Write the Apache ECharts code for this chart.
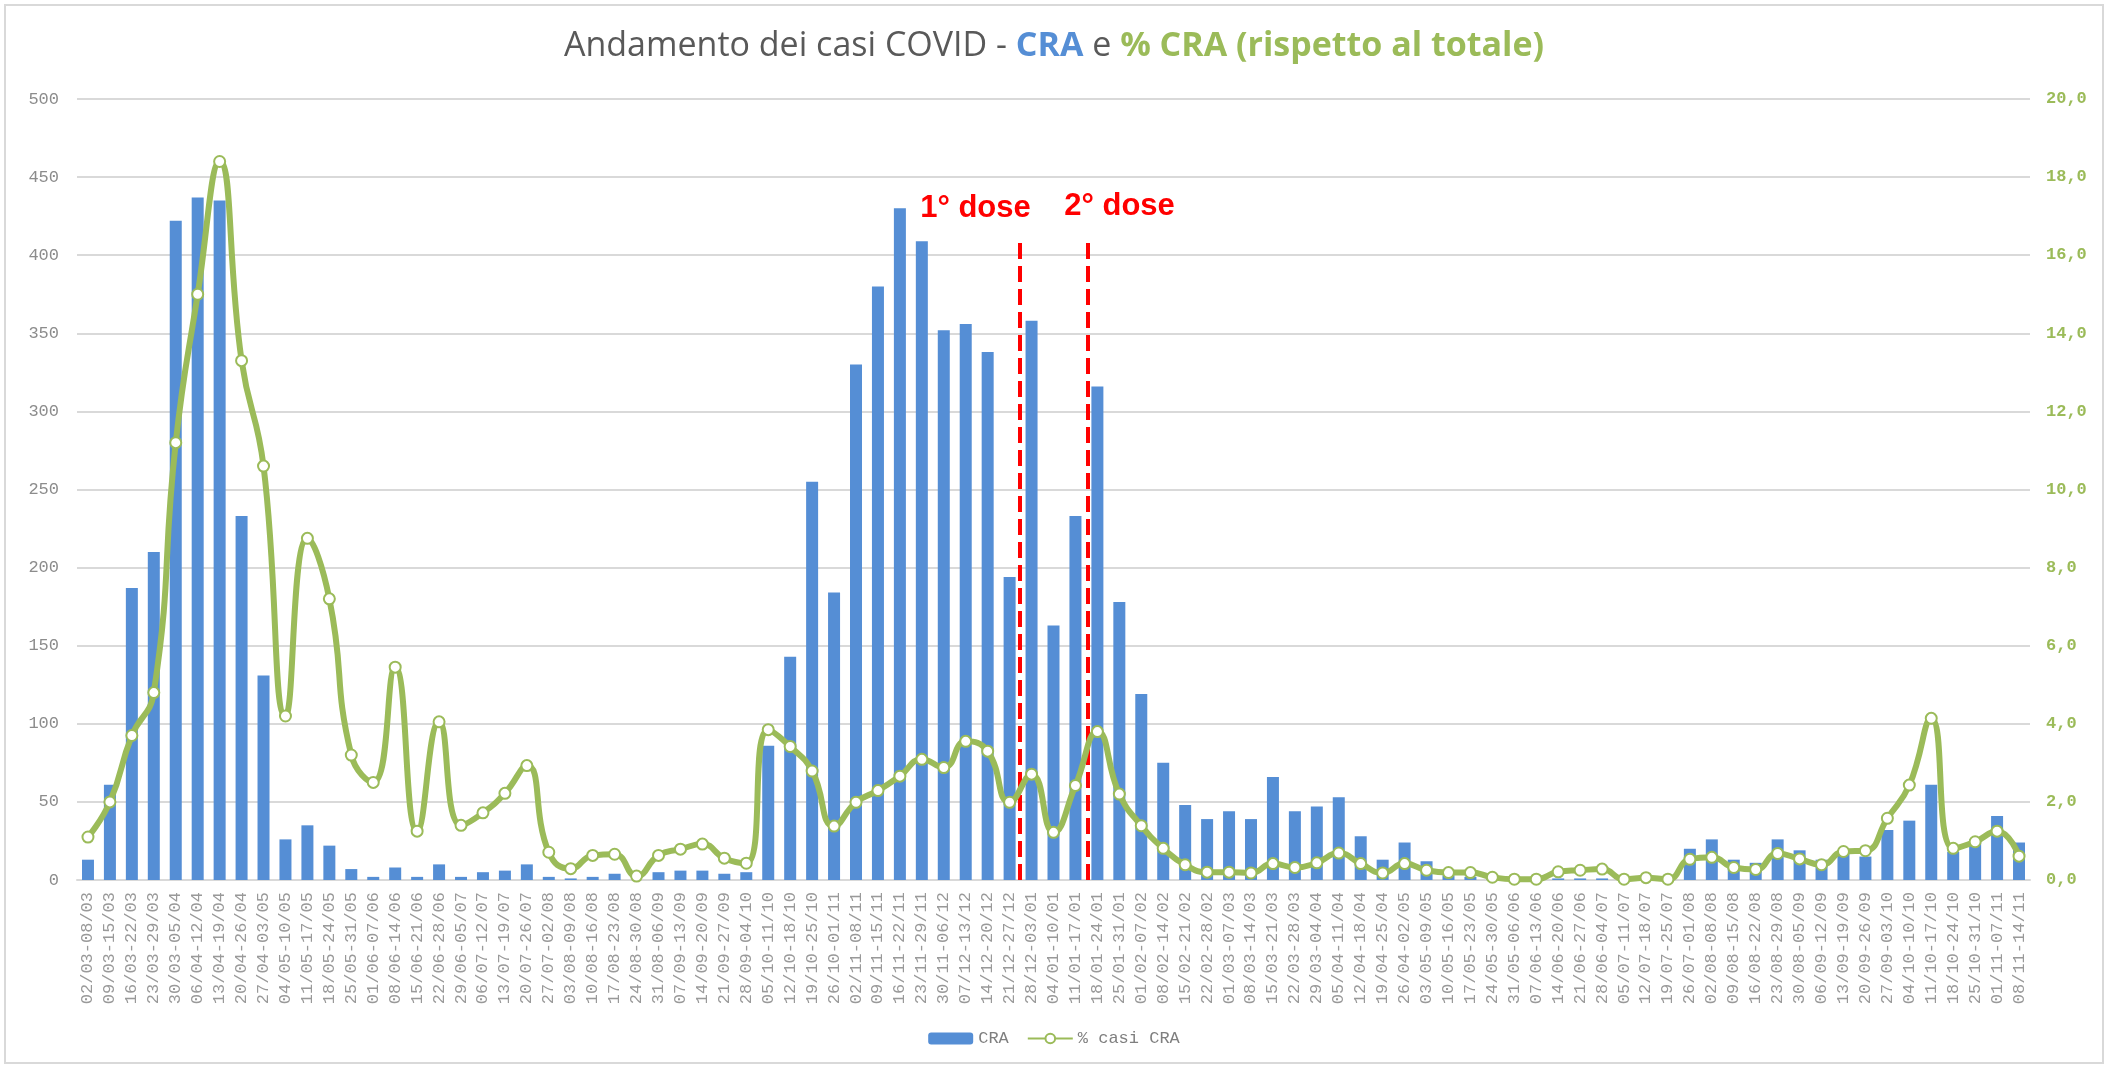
<!DOCTYPE html>
<html>
<head>
<meta charset="utf-8">
<script src="https://cdn.jsdelivr.net/npm/echarts@6/dist/echarts.min.js"></script>
<style>
  html, body { margin: 0; padding: 0; background: #fff; }
  #chart { width: 2108px; height: 1068px; }
  #frame { position: absolute; left: 4px; top: 4px; width: 2096px; height: 1056px;
           border: 2px solid #d9d9d9; pointer-events: none; }
</style>
</head>
<body>
<div id="chart"></div>
<div id="frame"></div>
<script>
// settimane (2020 -> 2021)
const weeks = [
  "02/03-08/03","09/03-15/03","16/03-22/03","23/03-29/03","30/03-05/04","06/04-12/04","13/04-19/04",
  "20/04-26/04","27/04-03/05","04/05-10/05","11/05-17/05","18/05-24/05","25/05-31/05","01/06-07/06",
  "08/06-14/06","15/06-21/06","22/06-28/06","29/06-05/07","06/07-12/07","13/07-19/07","20/07-26/07",
  "27/07-02/08","03/08-09/08","10/08-16/08","17/08-23/08","24/08-30/08","31/08-06/09","07/09-13/09",
  "14/09-20/09","21/09-27/09","28/09-04/10","05/10-11/10","12/10-18/10","19/10-25/10","26/10-01/11",
  "02/11-08/11","09/11-15/11","16/11-22/11","23/11-29/11","30/11-06/12","07/12-13/12","14/12-20/12",
  "21/12-27/12","28/12-03/01","04/01-10/01","11/01-17/01","18/01-24/01","25/01-31/01","01/02-07/02",
  "08/02-14/02","15/02-21/02","22/02-28/02","01/03-07/03","08/03-14/03","15/03-21/03","22/03-28/03",
  "29/03-04/04","05/04-11/04","12/04-18/04","19/04-25/04","26/04-02/05","03/05-09/05","10/05-16/05",
  "17/05-23/05","24/05-30/05","31/05-06/06","07/06-13/06","14/06-20/06","21/06-27/06","28/06-04/07",
  "05/07-11/07","12/07-18/07","19/07-25/07","26/07-01/08","02/08-08/08","09/08-15/08","16/08-22/08",
  "23/08-29/08","30/08-05/09","06/09-12/09","13/09-19/09","20/09-26/09","27/09-03/10","04/10-10/10",
  "11/10-17/10","18/10-24/10","25/10-31/10","01/11-07/11","08/11-14/11"
];

// casi CRA per settimana
const casiCRA = [
  13, 61, 187, 210, 422, 437, 435, 233, 131, 26, 35, 22, 7, 2, 8, 2, 10, 2, 5, 6, 10,
  2, 1, 2, 4, 0, 5, 6, 6, 4, 5, 86, 143, 255, 184, 330, 380, 430, 409, 352, 356, 338,
  194, 358, 163, 233, 316, 178, 119, 75, 48, 39, 44, 39, 66, 44, 47, 53, 28, 13, 24, 12,
  3, 2, 1, 0, 0, 1, 1, 1, 0, 0, 0, 20, 26, 13, 11, 26, 19, 13, 17, 15, 32, 38, 61, 18, 26, 41, 24
];

// % casi CRA rispetto al totale
const percCRA = [
  1.1, 2.0, 3.7, 4.8, 11.2, 15.0, 18.4, 13.3, 10.6, 4.2, 8.75, 7.2, 3.2, 2.5, 5.45, 1.25, 4.05,
  1.4, 1.72, 2.22, 2.93, 0.71, 0.29, 0.63, 0.66, 0.1, 0.63, 0.79, 0.92, 0.56, 0.43, 3.85, 3.42,
  2.79, 1.38, 1.99, 2.29, 2.66, 3.09, 2.88, 3.55, 3.30, 1.99, 2.71, 1.22, 2.42, 3.80, 2.20, 1.39,
  0.81, 0.39, 0.20, 0.20, 0.18, 0.42, 0.32, 0.44, 0.69, 0.42, 0.18, 0.42, 0.25, 0.19, 0.19, 0.07,
  0.02, 0.02, 0.21, 0.25, 0.28, 0.02, 0.06, 0.02, 0.53, 0.58, 0.32, 0.27, 0.68, 0.54, 0.39, 0.73,
  0.75, 1.58, 2.43, 4.14, 0.81, 0.98, 1.25, 0.61
];

// date vaccini: posizione in settimane (confine tra due colonne) e altezza della linea
const doseLabels = ["1° dose", "2° dose"];
const doseAt = [42.95, 46.05];
const doseTop = 408;
const doseLabelOffset = [[-44, -34], [32, -36]];

const GREEN = "#9bbb59", BLUE = "#558ed5", GRID = "#d9d9d9";
const MONO = "Liberation Mono";
const TITLE_FONT = "Open Sans";

const chart = echarts.init(document.getElementById("chart"), null, { renderer: "canvas" });

chart.setOption({
  animation: false,
  backgroundColor: "#fff",
  title: {
    left: "center", top: 24,
    text: "{n|Andamento dei casi COVID - }{b|CRA}{n| e }{g|% CRA (rispetto al totale)}",
    textStyle: {
      rich: {
        n: { fontFamily: TITLE_FONT, fontSize: 34, color: "#595959", fontWeight: "normal" },
        b: { fontFamily: TITLE_FONT, fontSize: 34, color: BLUE, fontWeight: "bold" },
        g: { fontFamily: TITLE_FONT, fontSize: 34, color: GREEN, fontWeight: "bold" }
      }
    }
  },
  legend: {
    bottom: 16, left: "center",
    data: ["CRA", "% casi CRA"],
    itemWidth: 45, itemHeight: 12, itemGap: 18,
    textStyle: { fontFamily: MONO, fontSize: 17, color: "#7f7f7f" }
  },
  grid: { left: 77, right: 78, top: 99, bottom: 188 },
  xAxis: [
    {
      type: "category", data: weeks,
      axisLine: { lineStyle: { color: GRID, width: 2 } },
      axisTick: { show: false },
      axisLabel: { interval: 0, rotate: 90, margin: 12, fontFamily: MONO, fontSize: 17, color: "#999" }
    },
    { type: "value", min: 0, max: weeks.length, show: false }
  ],
  yAxis: [
    {
      type: "value", min: 0, max: 500, interval: 50,
      axisLabel: { margin: 18, fontFamily: MONO, fontSize: 17, color: "#8c8c8c" },
      splitLine: { lineStyle: { color: GRID, width: 2 } },
      axisLine: { show: false }, axisTick: { show: false }
    },
    {
      type: "value", min: 0, max: 20, interval: 2,
      axisLabel: {
        margin: 16, fontFamily: MONO, fontSize: 17, fontWeight: "bold", color: GREEN,
        formatter: v => v.toFixed(1).replace(".", ",")
      },
      splitLine: { show: false }, axisLine: { show: false }, axisTick: { show: false }
    }
  ],
  series: [
    {
      name: "CRA", type: "bar", data: casiCRA, barWidth: 12,
      itemStyle: { color: BLUE }
    },
    {
      name: "% casi CRA", type: "line", yAxisIndex: 1, data: percCRA,
      smooth: 0.5, symbol: "circle", symbolSize: 11, z: 5,
      lineStyle: { color: GREEN, width: 6 },
      itemStyle: { color: "#fff", borderColor: GREEN, borderWidth: 2 }
    },
    {
      name: "dosi", type: "line", xAxisIndex: 1, yAxisIndex: 0, data: [], z: 6,
      markLine: {
        silent: true, symbol: "none",
        lineStyle: { color: "#ff0000", width: 4, type: [16, 7] },
        label: { show: false },
        data: doseAt.map(x => [{ coord: [x, 0] }, { coord: [x, doseTop] }])
      },
      markPoint: {
        silent: true, symbol: "circle", symbolSize: 0,
        label: {
          show: true, position: "inside", fontFamily: "Liberation Sans", fontWeight: "bold",
          fontSize: 31, color: "#ff0000"
        },
        data: doseAt.map((x, i) => ({
          coord: [x, doseTop], value: doseLabels[i],
          label: { formatter: doseLabels[i], offset: doseLabelOffset[i] }
        }))
      }
    }
  ]
});
</script>
</body>
</html>
